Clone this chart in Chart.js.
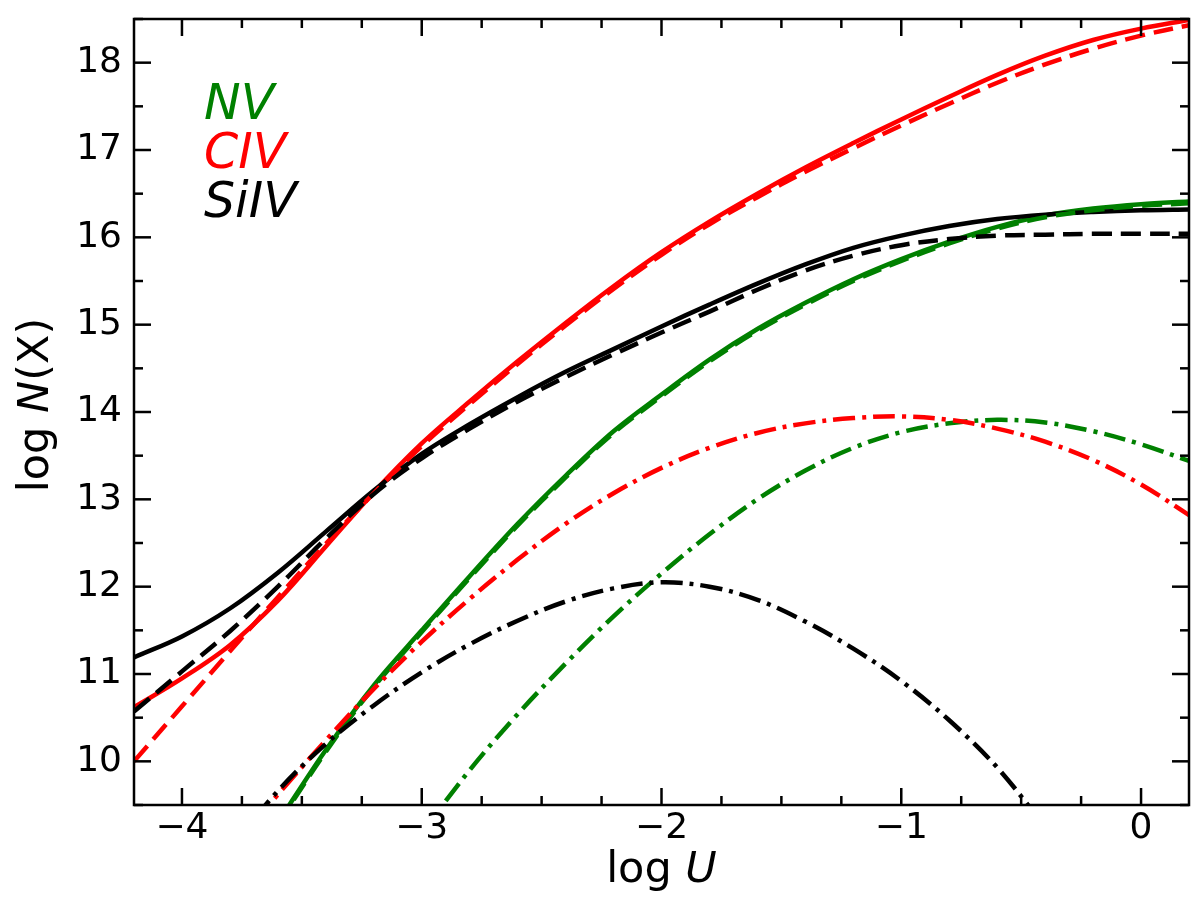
<!DOCTYPE html>
<html>
<head>
<meta charset="utf-8">
<script src="https://cdn.jsdelivr.net/npm/chart.js@4/dist/chart.umd.min.js"></script>
<style>
  html, body { margin: 0; padding: 0; background: #fff; }
  #plot { display: block; }
</style>
</head>
<body>
<canvas id="plot" width="1200" height="918"></canvas>
<script>
// log U grid the curves were read at
const logU = [-4.2, -4.0, -3.8, -3.6, -3.4, -3.2, -3.0, -2.8, -2.6, -2.4, -2.2, -2.0,
              -1.8, -1.6, -1.4, -1.2, -1.0, -0.8, -0.6, -0.4, -0.2, 0.0, 0.2];

// log N(X), solid / dashed / dash-dot models
const nvSolid = [null, null, null, 9.3, 10.13, 10.87, 11.5, 12.12, 12.72, 13.27, 13.78, 14.2,
                 14.6, 14.95, 15.25, 15.52, 15.75, 15.95, 16.12, 16.25, 16.33, 16.38, 16.41];
const nvDash = [null, null, null, 9.28, 10.11, 10.85, 11.48, 12.1, 12.7, 13.25, 13.76, 14.18,
                14.58, 14.93, 15.23, 15.5, 15.73, 15.93, 16.1, 16.23, 16.31, 16.36, 16.39];
const nvDashDot = [null, null, null, null, null, null, 9.18, 9.9, 10.54, 11.12, 11.66, 12.15,
                   12.6, 13.0, 13.33, 13.59, 13.77, 13.87, 13.91, 13.88, 13.78, 13.63, 13.44];

const civSolid = [10.62, 10.95, 11.33, 11.84, 12.46, 13.08, 13.64, 14.12, 14.58, 15.02, 15.44, 15.83,
                  16.18, 16.5, 16.8, 17.08, 17.35, 17.61, 17.86, 18.08, 18.26, 18.39, 18.49];
const civDash = [10.0, 10.63, 11.26, 11.88, 12.49, 13.07, 13.61, 14.09, 14.55, 14.99, 15.41, 15.8,
                 16.15, 16.46, 16.75, 17.02, 17.28, 17.53, 17.77, 17.98, 18.16, 18.31, 18.43];
const civDashDot = [null, null, 8.98, 9.62, 10.24, 10.83, 11.37, 11.86, 12.31, 12.72, 13.07, 13.36,
                    13.59, 13.76, 13.87, 13.93, 13.95, 13.91, 13.81, 13.66, 13.45, 13.17, 12.82];

const siivSolid = [11.19, 11.43, 11.75, 12.16, 12.63, 13.1, 13.52, 13.86, 14.17, 14.46, 14.72, 14.98,
                   15.23, 15.47, 15.69, 15.88, 16.02, 16.13, 16.21, 16.26, 16.29, 16.31, 16.32];
const siivDash = [10.57, 11.03, 11.49, 12.0, 12.55, 13.06, 13.47, 13.81, 14.12, 14.4, 14.66, 14.91,
                  15.15, 15.4, 15.62, 15.79, 15.91, 15.98, 16.02, 16.03, 16.04, 16.04, 16.04];
const siivDashDot = [null, null, 9.0, 9.66, 10.2, 10.64, 11.02, 11.34, 11.61, 11.83, 11.98, 12.05,
                     12.0, 11.85, 11.6, 11.29, 10.92, 10.47, 9.93, 9.25, null, null, null];

const ions = ["NV", "CIV", "SiIV"];
const ionColors = ["#008000", "#ff0000", "#000000"];

const xTicks = [-4, -3, -2, -1, 0];
const yTicks = [10, 11, 12, 13, 14, 15, 16, 17, 18];

const FONT = "'DejaVu Sans', 'Liberation Sans', sans-serif";
const DASHED = [20, 9];
const DASHDOT = [22, 7, 4, 7];

function series(vals, color, dash) {
  return {
    data: logU.map((u, i) => ({ x: u, y: vals[i] })),
    borderColor: color,
    borderWidth: 4.5,
    borderDash: dash,
    pointRadius: 0,
    fill: false,
    spanGaps: false,
    tension: 0.35,
    clip: 0
  };
}

// matplotlib-like plot order, last one on top
let datasets = [
  series(nvSolid, ionColors[0], []),
  series(civSolid, ionColors[1], []),
  series(siivSolid, ionColors[2], []),
  series(nvDash, ionColors[0], DASHED),
  series(civDash, ionColors[1], DASHED),
  series(siivDash, ionColors[2], DASHED),
  series(nvDashDot, ionColors[0], DASHDOT),
  series(civDashDot, ionColors[1], DASHDOT),
  series(siivDashDot, ionColors[2], DASHDOT)
];
datasets = datasets.reverse();

function minorValues(min, max, step) {
  const out = [];
  for (let v = Math.ceil(min / step) * step; v <= max + 1e-9; v += step) out.push(+v.toFixed(4));
  return out;
}

// frame, inward ticks on all sides, axis titles and the text legend
const decorations = {
  id: "decorations",
  afterDraw(chart) {
    const { ctx, chartArea: a, scales: { x, y } } = chart;
    ctx.save();
    ctx.strokeStyle = "#000";
    ctx.lineWidth = 2.5;
    ctx.lineCap = "butt";

    const tick = (x1, y1, x2, y2) => { ctx.beginPath(); ctx.moveTo(x1, y1); ctx.lineTo(x2, y2); ctx.stroke(); };

    minorValues(x.min, x.max, 0.25).forEach(v => {
      const len = xTicks.includes(v) ? 17 : 9;
      const px = x.getPixelForValue(v);
      tick(px, a.bottom, px, a.bottom - len);
      tick(px, a.top, px, a.top + len);
    });
    minorValues(y.min, y.max, 0.5).forEach(v => {
      const len = yTicks.includes(v) ? 17 : 9;
      const py = y.getPixelForValue(v);
      tick(a.left, py, a.left + len, py);
      tick(a.right, py, a.right - len, py);
    });
    ctx.strokeRect(a.left, a.top, a.right - a.left, a.bottom - a.top);

    // axis titles with italic symbols
    const size = 43;
    const upright = size + "px " + FONT;
    const italic = "italic " + size + "px " + FONT;
    ctx.fillStyle = "#000";
    ctx.textBaseline = "alphabetic";
    ctx.textAlign = "left";

    ctx.font = upright;
    const wLog = ctx.measureText("log ").width;
    ctx.font = italic;
    const wU = ctx.measureText("U").width;
    let sx = (a.left + a.right) / 2 - (wLog + wU) / 2;
    ctx.font = upright; ctx.fillText("log ", sx, 882);
    ctx.font = italic; ctx.fillText("U", sx + wLog, 882);

    ctx.save();
    ctx.translate(48, 405);
    ctx.rotate(-Math.PI / 2);
    ctx.font = upright;
    const wN0 = ctx.measureText("log ").width;
    const wN2 = ctx.measureText("(X)").width;
    ctx.font = italic;
    const wN1 = ctx.measureText("N").width;
    sx = -(wN0 + wN1 + wN2) / 2;
    ctx.font = upright; ctx.fillText("log ", sx, 0);
    ctx.font = italic; ctx.fillText("N", sx + wN0, 0);
    ctx.font = upright; ctx.fillText("(X)", sx + wN0 + wN1, 0);
    ctx.restore();

    ctx.font = "italic 49px " + FONT;
    ions.forEach((name, i) => {
      ctx.fillStyle = ionColors[i];
      ctx.fillText(name, 204, 119 + i * 49);
    });
    ctx.restore();
  }
};

new Chart(document.getElementById("plot").getContext("2d"), {
  type: "line",
  data: { datasets },
  options: {
    responsive: false,
    animation: false,
    devicePixelRatio: 1,
    layout: { padding: { left: 0, right: 11, top: 19, bottom: 0 } },
    plugins: { legend: { display: false }, tooltip: { enabled: false } },
    scales: {
      x: {
        type: "linear",
        min: -4.2,
        max: 0.2,
        afterBuildTicks: s => { s.ticks = xTicks.map(v => ({ value: v })); },
        afterFit: s => { s.height = 113; s.paddingLeft = 0; s.paddingRight = 0; },
        grid: { display: false, drawTicks: false },
        border: { display: false },
        ticks: {
          padding: 2,
          color: "#000",
          font: { family: FONT, size: 36 },
          maxRotation: 0,
          callback: v => (v < 0 ? "\u2212" + Math.abs(v) : String(v))
        }
      },
      y: {
        type: "linear",
        min: 9.5,
        max: 18.5,
        afterBuildTicks: s => { s.ticks = yTicks.map(v => ({ value: v })); },
        afterFit: s => { s.width = 134; s.paddingTop = 0; s.paddingBottom = 0; },
        grid: { display: false, drawTicks: false },
        border: { display: false },
        ticks: {
          padding: 12,
          color: "#000",
          font: { family: FONT, size: 36 }
        }
      }
    }
  },
  plugins: [decorations]
});
</script>
</body>
</html>
